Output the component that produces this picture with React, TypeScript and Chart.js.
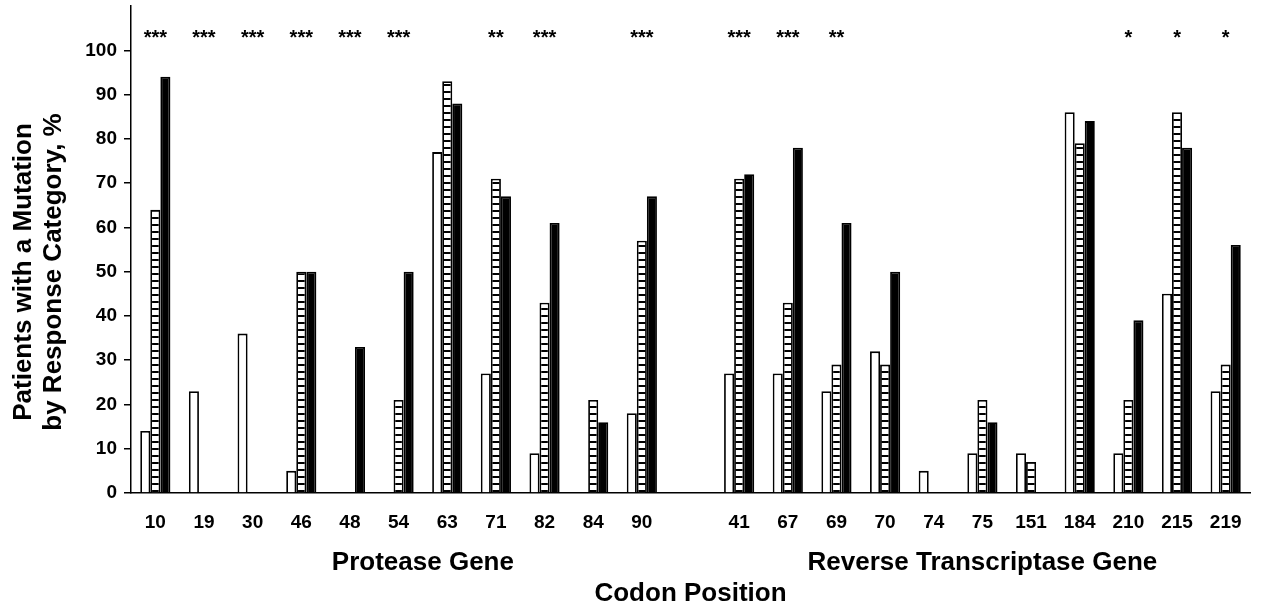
import React, { useEffect, useRef } from "react";
import { Chart, registerables } from "chart.js";

Chart.register(...registerables);

const codons: string[] = ["10", "19", "30", "46", "48", "54", "63", "71", "82", "84", "90", "", "41", "67", "69", "70", "74", "75", "151", "184", "210", "215", "219"];
const whiteValues: (number | null)[] = [14, 23, 36, 5, 0, 0, 77, 27, 9, 0, 18, null, 27, 27, 23, 32, 5, 9, 9, 86, 9, 45, 23];
const hatchedValues: (number | null)[] = [64, 0, 0, 50, 0, 21, 93, 71, 43, 21, 57, null, 71, 43, 29, 29, 0, 21, 7, 79, 21, 86, 29];
const blackValues: (number | null)[] = [94, 0, 0, 50, 33, 50, 88, 67, 61, 16, 67, null, 72, 78, 61, 50, 0, 16, 0, 84, 39, 78, 56];
const significance: string[] = ["***", "***", "***", "***", "***", "***", "", "**", "***", "", "***", "", "***", "***", "**", "", "", "", "", "", "*", "*", "*"];
const yTicks: number[] = [0, 10, 20, 30, 40, 50, 60, 70, 80, 90, 100];
const yTitleLines: string[] = ["Patients with a Mutation", "by Response Category, %"];
const geneLabels: string[] = ["Protease Gene", "Reverse Transcriptase Gene"];
const xTitle = "Codon Position";

const FONT = '"Liberation Sans", Arial, Helvetica, sans-serif';

function makeHatch(): CanvasPattern | string {
  const c = document.createElement("canvas");
  c.width = 8;
  c.height = 7;
  const g = c.getContext("2d");
  if (!g) return "#fff";
  g.fillStyle = "#fff";
  g.fillRect(0, 0, 8, 7);
  g.fillStyle = "#000";
  g.fillRect(0, 0, 8, 2);
  const p = g.createPattern(c, "repeat");
  return p || "#fff";
}

const annotationPlugin = {
  id: "annot",
  afterDatasetsDraw(chart: any) {
    const { ctx, scales } = chart;
    const x = scales.x;
    const area = chart.chartArea;
    ctx.save();
    ctx.fillStyle = "#000";
    // significance stars
    ctx.font = `bold 20px ${FONT}`;
    ctx.textAlign = "center";
    ctx.textBaseline = "middle";
    significance.forEach((s, i) => {
      if (!s) return;
      ctx.fillText(s, x.getPixelForValue(i), 38);
    });
    // gene labels
    ctx.font = `bold 26px ${FONT}`;
    ctx.textBaseline = "middle";
    const p1 = (x.getPixelForValue(5) + x.getPixelForValue(6)) / 2;
    const p2 = x.getPixelForValue(17);
    ctx.fillText(geneLabels[0], p1, 563);
    ctx.fillText(geneLabels[1], p2, 563);
    // x title
    ctx.fillText(xTitle, (area.left + area.right) / 2, 594);
    // y title
    ctx.translate(0, 272);
    ctx.rotate(-Math.PI / 2);
    ctx.textBaseline = "alphabetic";
    ctx.fillText(yTitleLines[0], 0, 31);
    ctx.fillText(yTitleLines[1], 0, 61);
    ctx.restore();
  },
};

export default function App() {
  const ref = useRef<HTMLCanvasElement>(null);
  useEffect(() => {
    if (!ref.current) return;
    const hatch = makeHatch();
    const bw = (c: any) => {
      const v = c.raw;
      return v && v > 0 ? 1.8 : 0;
    };
    const common = {
      borderColor: "#000",
      borderWidth: bw,
      borderSkipped: "start" as const,
      categoryPercentage: 0.62,
      barPercentage: 1,
    };
    const chart = new Chart(ref.current, {
      type: "bar",
      data: {
        labels: codons,
        datasets: [
          { label: "Category 1", data: whiteValues, backgroundColor: "#fff", ...common },
          { label: "Category 2", data: hatchedValues, backgroundColor: hatch as any, ...common },
          { label: "Category 3", data: blackValues, backgroundColor: "#000", ...common },
        ],
      },
      options: {
        animation: false,
        responsive: true,
        maintainAspectRatio: false,
        layout: { padding: { top: 6, right: 29, left: 0, bottom: 0 } },
        plugins: { legend: { display: false }, tooltip: { enabled: false } },
        scales: {
          x: {
            grid: { display: false, drawTicks: false },
            border: { display: true, color: "#000", width: 1.5 },
            ticks: {
              color: "#000",
              font: { family: FONT, size: 19, weight: "bold" },
              padding: 18,
              maxRotation: 0,
              autoSkip: false,
            },
            afterFit(scale: any) {
              scale.height = 117;
            },
          },
          y: {
            min: 0,
            max: 110,
            grid: { drawOnChartArea: false, drawTicks: true, tickLength: 7, color: "#000", lineWidth: 1.5 },
            border: { display: true, color: "#000", width: 1.5 },
            ticks: {
              color: "#000",
              font: { family: FONT, size: 19, weight: "bold" },
              padding: 7,
              stepSize: 10,
            },
            afterBuildTicks(axis: any) {
              axis.ticks = yTicks.map((v) => ({ value: v }));
            },
            afterFit(scale: any) {
              scale.width = 131;
              scale.paddingTop = 0;
              scale.paddingBottom = 0;
            },
          },
        },
      },
      plugins: [annotationPlugin],
    });
    return () => chart.destroy();
  }, []);
  return (
    <div style={{ position: "absolute", left: 0, top: 0, width: 1279, height: 610, background: "#fff" }}>
      <canvas ref={ref} />
    </div>
  );
}
